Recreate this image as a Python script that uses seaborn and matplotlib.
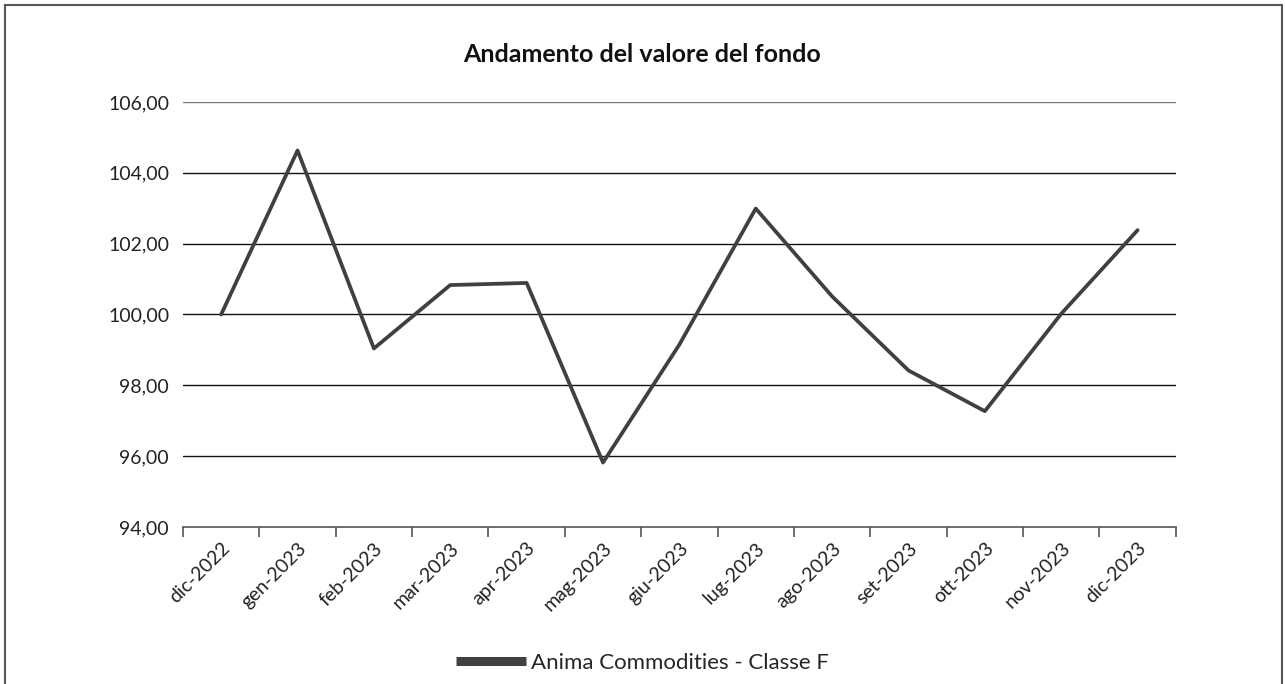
import numpy as np
import pandas as pd
import matplotlib
matplotlib.use("Agg")
import matplotlib.pyplot as plt
import seaborn as sns
from matplotlib.ticker import FixedLocator, FuncFormatter
from matplotlib.patches import Rectangle

# dati
mesi = ["dic-2022", "gen-2023", "feb-2023", "mar-2023", "apr-2023", "mag-2023",
        "giu-2023", "lug-2023", "ago-2023", "set-2023", "ott-2023", "nov-2023", "dic-2023"]
valori = [100.00, 104.63, 99.04, 100.83, 100.89, 95.82,
          99.15, 102.99, 100.51, 98.42, 97.27, 100.02, 102.38]
serie = "Anima Commodities - Classe F"
y_ticks = [94, 96, 98, 100, 102, 104, 106]

df = pd.DataFrame({"mese": mesi, "valore": valori, "serie": serie})

sns.set_theme(style="white")
plt.rcParams['font.family'] = ['Lato', 'DejaVu Sans']

fig = plt.figure(figsize=(12.85, 6.84), dpi=100)
ax = fig.add_axes([0.1424, 0.2295, 0.7726, 0.6215])

sns.lineplot(data=df, x="mese", y="valore", hue="serie", palette=["#404040"],
             linewidth=2.7, sort=False, ax=ax)

n = len(mesi)
ax.set_xlim(-0.5, n - 0.5)
ax.set_ylim(y_ticks[0], y_ticks[-1])

# griglia orizzontale
ax.yaxis.set_major_locator(FixedLocator(y_ticks))
ax.yaxis.set_major_formatter(FuncFormatter(lambda v, p: f"{v:.2f}".replace(".", ",")))
for t in y_ticks[1:]:
    ax.axhline(t, color="#111111" if t < 106 else "#777777", linewidth=1.0, zorder=0)

# tacche tra le categorie
ax.set_xticks(range(n))
ax.set_xticklabels(mesi, rotation=45, ha="right", rotation_mode="anchor", fontsize=14)
ax.set_xticks(np.arange(-0.5, n, 1.0), minor=True)
ax.tick_params(axis="x", which="major", length=0, pad=9)
ax.tick_params(axis="x", which="minor", length=7, width=1.2, color="#555555", bottom=True)
ax.tick_params(axis="y", length=0, labelsize=14, pad=10, labelcolor="#222222")
ax.tick_params(axis="x", labelcolor="#222222")

for s in ["left", "right", "top"]:
    ax.spines[s].set_visible(False)
ax.spines["bottom"].set_color("#555555")
ax.spines["bottom"].set_linewidth(1.2)

ax.set_xlabel("")
ax.set_ylabel("")
fig.text(0.5, 0.92, "Andamento del valore del fondo", ha="center", va="center",
         fontsize=18, fontweight="bold", color="#111111")

leg = ax.legend(loc="center", bbox_to_anchor=(0.5, 0.031), bbox_transform=fig.transFigure,
                frameon=False, fontsize=16, handlelength=3.15, handletextpad=0.25)
for h in leg.legend_handles:
    h.set_linewidth(6.5)
    h.set_solid_capstyle("butt")

# cornice esterna
fig.patches.append(Rectangle((5 / 1285, -0.05), 1277 / 1285, 1.05 - 5 / 684,
                             transform=fig.transFigure, fill=False,
                             edgecolor="#555555", linewidth=1.5))

fig.savefig("out.png", dpi=100)
